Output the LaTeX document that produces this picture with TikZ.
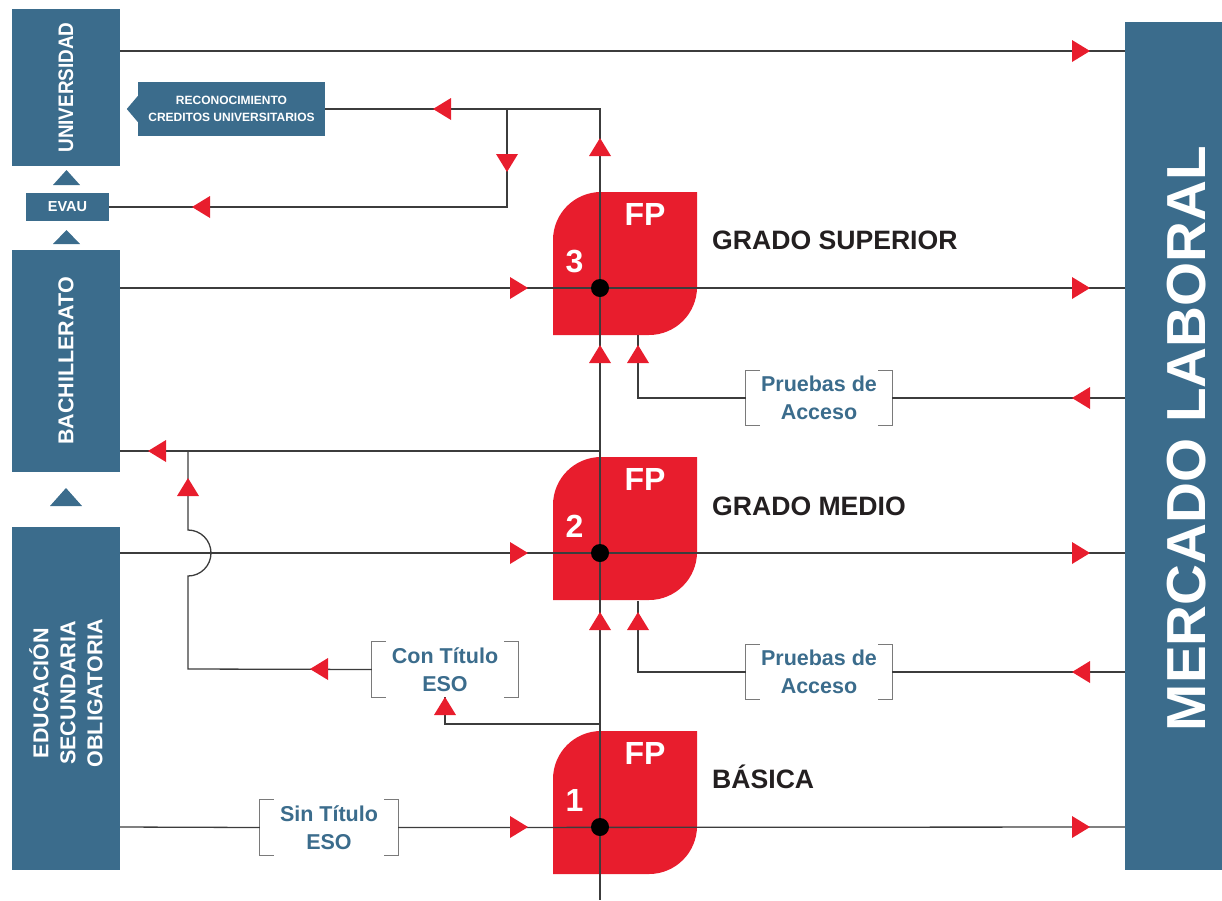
\documentclass[tikz,border=0pt]{standalone}
\usepackage{fontspec}
\setmainfont{Liberation Sans}
\usepackage{graphicx}
\definecolor{boxblue}{HTML}{3B6C8C}
\definecolor{fpred}{HTML}{E81D2D}
\definecolor{linec}{HTML}{3C3C3C}
\definecolor{brk}{HTML}{7A7A7A}
\definecolor{darktxt}{HTML}{231F20}
\tikzset{
 bluebox/.style={fill=boxblue, draw=none, inner sep=0pt, text=white, font=\bfseries},
 conn/.style={draw=linec, line width=1.3pt},
 lbl/.style={text=boxblue, font=\fontsize{21.5}{28}\selectfont\bfseries, align=center, inner sep=0pt},
 lvl/.style={text=darktxt, font=\fontsize{26.6}{30}\selectfont\bfseries, anchor=base west, inner sep=0pt},
 fpnum/.style={text=white, font=\fontsize{32}{32}\selectfont\bfseries, anchor=base, inner sep=0pt},
 brack/.style={draw=brk, line width=1.3pt},
}
\newcommand\fpbox[3]{%
 \fill[fpred] (553,#2+47) -- (553,#2-48) .. controls (553,#2-74.5) and (574.5,#2-96) .. (601,#2-96) -- (697,#2-96) -- (697,#2-1) .. controls (697,#2+25.5) and (675.5,#2+47) .. (649,#2+47) -- cycle;
 \node[fpnum] (#1n) at (574.5,#2-16) {#3};
 \node[fpnum] (#1t) at (645,#2-63) {FP};
}
\newcommand\brackets[1]{%
 \draw[brack] ([xshift=14pt]#1.north west) -- (#1.north west) -- (#1.south west) -- ([xshift=14pt]#1.south west);
 \draw[brack] ([xshift=-14pt]#1.north east) -- (#1.north east) -- (#1.south east) -- ([xshift=-14pt]#1.south east);
}
\newcommand\arR[2]{\fill[fpred] (#1,#2) -- ++(-18,-11) -- ++(0,22) -- cycle;}
\newcommand\arL[2]{\fill[fpred] (#1,#2) -- ++(18,-11) -- ++(0,22) -- cycle;}
\newcommand\arU[2]{\fill[fpred] (#1,#2) -- ++(-11,18) -- ++(22,0) -- cycle;}
\newcommand\arD[2]{\fill[fpred] (#1,#2) -- ++(-11,-18) -- ++(22,0) -- cycle;}
\begin{document}
\begin{tikzpicture}[x=1pt,y=-1pt]
\useasboundingbox (0,0) rectangle (1222,900);
% left boxes
\node[bluebox, minimum width=108pt, minimum height=157pt] (univ) at (66,87.5)
  {\rotatebox{90}{\fontsize{21}{21}\selectfont\scalebox{0.9}[1]{UNIVERSIDAD}}};
\node[bluebox, minimum width=108pt, minimum height=222pt] (bach) at (66,361)
  {\rotatebox{90}{\fontsize{21.5}{21}\selectfont BACHILLERATO}};
\node[bluebox, minimum width=108pt, minimum height=343pt] (eso) at (66,698.5) {};
\node[text=white, font=\fontsize{21.5}{27}\selectfont\bfseries, align=center, rotate=90, inner sep=0pt] (esoT) at (66,693)
  {EDUCACIÓN\\SECUNDARIA\\OBLIGATORIA};
\node[bluebox, minimum width=83pt, minimum height=28pt, font=\fontsize{14.5}{14}\selectfont\bfseries] (evau) at (67.5,207) {EVAU};
\node[bluebox, minimum width=187pt, minimum height=54pt, align=center, font=\fontsize{12}{17}\selectfont\bfseries] (recon) at (231.5,109)
  {RECONOCIMIENTO\\CREDITOS UNIVERSITARIOS};
\fill[boxblue] (recon.west) ++(0,-13) -- ++(-11,13) -- ++(11,13) -- cycle;
\fill[boxblue] (53,185) -- (66.5,170) -- (80,185) -- cycle;
\fill[boxblue] (53,244) -- (66.5,230) -- (80,244) -- cycle;
\fill[boxblue] (50,506) -- (66,488) -- (82,506) -- cycle;
% right box
\node[bluebox, minimum width=97pt, minimum height=848pt] (merc) at (1173.5,446) {};
\node[text=white, font=\fontsize{55}{55}\selectfont\bfseries, rotate=90, inner sep=0pt] (mercT) at (1187,438.5) {\scalebox{1.03}[1]{MERCADO LABORAL}};
% FP boxes
\fpbox{fpc}{288}{3}
\fpbox{fpb}{553}{2}
\fpbox{fpa}{827}{1}
\node[lvl] (gs) at (712,249) {GRADO SUPERIOR};
\node[lvl] (gm) at (712,515) {GRADO MEDIO};
\node[lvl] (gb) at (712,788) {BÁSICA};
% bracket labels
\node[lbl, minimum width=146pt, minimum height=54pt] (pa1) at (819,398) {Pruebas de\\Acceso};
\node[lbl, minimum width=146pt, minimum height=54pt] (pa2) at (819,672) {Pruebas de\\Acceso};
\node[lbl, minimum width=146pt, minimum height=55pt] (con) at (445,669.5) {Con Título\\ESO};
\node[lbl, minimum width=138pt, minimum height=55pt] (st) at (329,827.5) {Sin Título\\ESO};
\brackets{pa1}
\brackets{pa2}
\brackets{con}
\brackets{st}
% coordinates
\coordinate (l1) at (0,51);
\coordinate (l3) at (0,288);
\coordinate (l2) at (0,553);
\coordinate (la) at (0,827);
\coordinate (lb) at (0,451);
\coordinate (vtop) at (600,109);
\coordinate (vbot) at (600,900);
\coordinate (vb) at (600,451);
\coordinate (br) at (507,109);
\coordinate (brd) at (507,207);
\coordinate (pa1c) at (638,398);
\coordinate (pa1t) at (638,335);
\coordinate (pa2c) at (638,672);
\coordinate (pa2t) at (638,601);
\coordinate (cb) at (188,669);
\coordinate (ct) at (188,451);
\coordinate (cv) at (600,724);
\coordinate (cl) at (445,724);
% connectors
\draw[conn] (univ.east |- l1) -- (merc.west |- l1);
\draw[conn] (recon.east) -- (vtop) -- (vbot);
\draw[conn] (br) -- (brd) -- (evau.east);
\draw[conn] (bach.east |- l3) -- (merc.west |- l3);
\draw[conn] (eso.east |- l2) -- (merc.west |- l2);
\draw[conn] (eso.east |- la) -- (st.west);
\draw[conn] (st.east) -- (merc.west |- la);
\draw[conn] (vb) -- (bach.east |- lb);
\draw[conn] (merc.west |- pa1c) -- (pa1.east);
\draw[conn] (pa1.west) -- (pa1c) -- (pa1t);
\draw[conn] (merc.west |- pa2c) -- (pa2.east);
\draw[conn] (pa2.west) -- (pa2c) -- (pa2t);
\draw[conn] (con.west) -- (cb) -- (188,576) .. controls (200.7,576) and (211,565.7) .. (211,553) .. controls (211,540.3) and (200.7,530) .. (188,530) -- (ct);
\draw[conn] (cv) -- (cl) -- (con.south);
% dots
\fill[black] (600,288) circle[radius=9];
\fill[black] (600,553) circle[radius=9];
\fill[black] (600,827) circle[radius=9];
% arrows
\arR{528}{288} \arR{528}{553} \arR{528}{827}
\arR{1090}{51} \arR{1090}{288} \arR{1090}{553} \arR{1090}{827}
\arL{1072}{398} \arL{1072}{672}
\arL{192}{207} \arL{433}{109} \arL{148}{451} \arL{310}{669}
\arU{600}{138} \arU{600}{345} \arU{600}{612}
\arU{638}{345} \arU{638}{612}
\arU{188}{478} \arU{445}{697}
\arD{507}{172}
\end{tikzpicture}
\end{document}
